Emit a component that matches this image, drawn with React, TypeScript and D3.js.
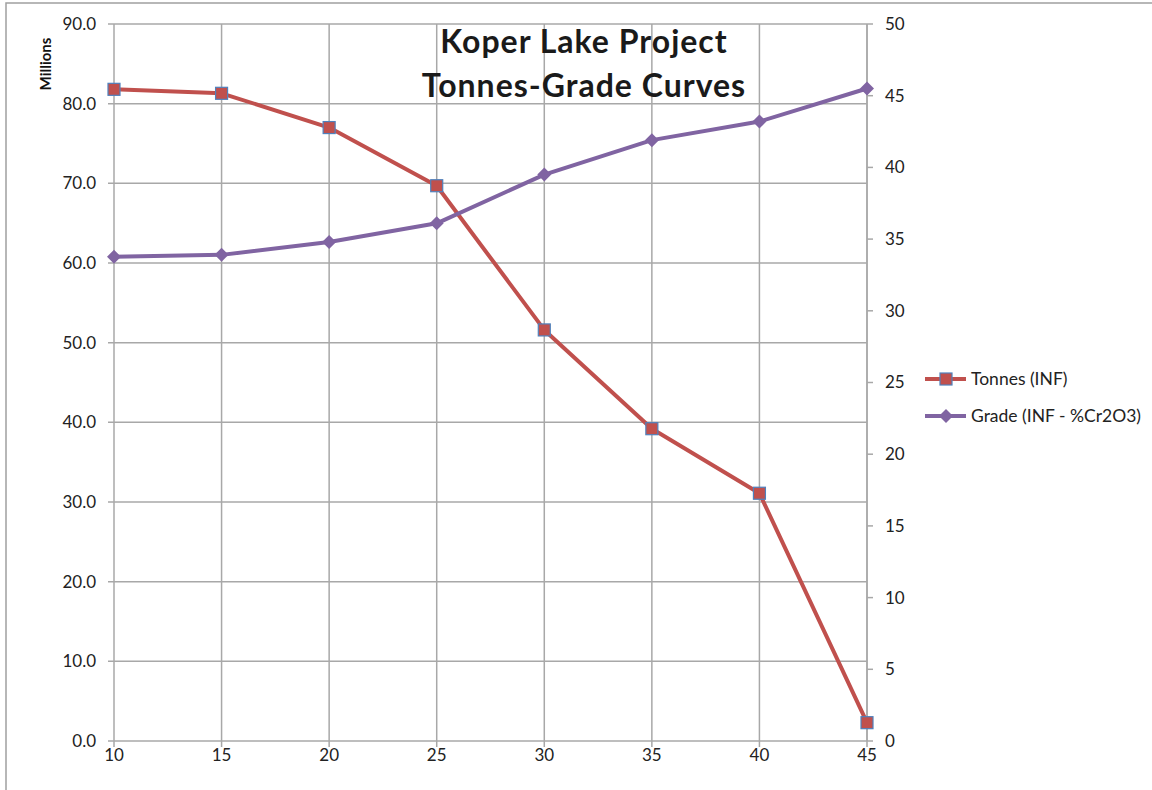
import * as d3 from 'd3';

const cutoffs = [10, 15, 20, 25, 30, 35, 40, 45];
const tonnes = [81.8, 81.3, 77.0, 69.7, 51.6, 39.2, 31.1, 2.3];
const grade = [33.77, 33.9, 34.8, 36.1, 39.5, 41.9, 43.2, 45.5];
const leftTicks = [0, 10, 20, 30, 40, 50, 60, 70, 80, 90];
const rightTicks = [0, 5, 10, 15, 20, 25, 30, 35, 40, 45, 50];
const titleLines = ['Koper Lake Project', 'Tonnes-Grade Curves'];
const seriesNames = ['Tonnes (INF)', 'Grade (INF - %Cr2O3)'];

const W = 1152;
const H = 790;
const font = 'Lato, "Open Sans", sans-serif';
const grid = '#a8a8a8';
const red = '#c0504d';
const purple = '#8064a2';
const blue = '#4f81bd';

export default function App() {
  const x = d3.scaleLinear().domain([10, 45]).range([114, 867]);
  const yL = d3.scaleLinear().domain([0, 90]).range([741, 24]);
  const yR = d3.scaleLinear().domain([0, 50]).range([741, 24]);

  const tonnesLine = d3
    .line<number>()
    .x((_, i) => x(cutoffs[i]))
    .y((d) => yL(d));
  const gradeLine = d3
    .line<number>()
    .x((_, i) => x(cutoffs[i]))
    .y((d) => yR(d));

  const diamond = (cx: number, cy: number, r: number) =>
    `M${cx},${cy - r}L${cx + r},${cy}L${cx},${cy + r}L${cx - r},${cy}Z`;

  return (
    <>
      <style>{'body{margin:0}'}</style>
      <svg width={W} height={H} style={{ display: 'block', background: '#fff' }} fontFamily={font}>
        {/* chart border */}
        <rect x={6} y={3} width={W + 10} height={H + 10} fill="none" stroke="#a0a0a0" strokeWidth={1.5} />

        {/* grid */}
        {leftTicks.map((t) => (
          <line key={'h' + t} x1={108} x2={867} y1={yL(t)} y2={yL(t)} stroke={grid} strokeWidth={1.5} />
        ))}
        {cutoffs.map((c) => (
          <line key={'v' + c} x1={x(c)} x2={x(c)} y1={yL(90)} y2={747} stroke={grid} strokeWidth={1.5} />
        ))}

        {/* right axis */}
        <line x1={867} x2={867} y1={yR(50)} y2={yR(0)} stroke={grid} strokeWidth={1.5} />
        {rightTicks.map((t) => (
          <g key={'r' + t}>
            <line x1={867} x2={873} y1={yR(t)} y2={yR(t)} stroke={grid} strokeWidth={1.5} />
            <text x={885} y={yR(t)} dy="0.35em" fontSize={17} fill="#222">
              {t}
            </text>
          </g>
        ))}

        {/* left axis labels */}
        {leftTicks.map((t) => (
          <text key={'l' + t} x={96} y={yL(t)} dy="0.35em" textAnchor="end" fontSize={17} fill="#222">
            {t.toFixed(1)}
          </text>
        ))}
        {cutoffs.map((c) => (
          <text key={'b' + c} x={x(c)} y={761} textAnchor="middle" fontSize={17} fill="#222">
            {c}
          </text>
        ))}

        <text
          transform="translate(51,64) rotate(-90)"
          textAnchor="middle"
          fontSize={15}
          fontWeight="bold"
          fill="#111"
        >
          Millions
        </text>

        {/* title */}
        {titleLines.map((s, i) => (
          <text
            key={s}
            x={584}
            y={53 + i * 44}
            textAnchor="middle"
            fontSize={32}
            fontWeight="bold"
            letterSpacing={1}
            fill="#1a1a1a"
          >
            {s}
          </text>
        ))}

        {/* series */}
        <path d={tonnesLine(tonnes) ?? ''} fill="none" stroke={red} strokeWidth={4} strokeLinejoin="round" />
        <path d={gradeLine(grade) ?? ''} fill="none" stroke={purple} strokeWidth={4} strokeLinejoin="round" />
        {tonnes.map((d, i) => (
          <rect
            key={'tm' + i}
            x={x(cutoffs[i]) - 6}
            y={yL(d) - 6}
            width={12}
            height={12}
            fill={red}
            stroke={blue}
            strokeWidth={1.2}
          />
        ))}
        {grade.map((d, i) => (
          <path key={'gm' + i} d={diamond(x(cutoffs[i]), yR(d), 7)} fill={purple} />
        ))}

        {/* legend */}
        <g>
          <line x1={925} x2={966} y1={379} y2={379} stroke={red} strokeWidth={4} />
          <rect x={940} y={373} width={12} height={12} fill={red} stroke={blue} strokeWidth={1.2} />
          <text x={971} y={379} dy="0.35em" fontSize={17.5} fill="#222">
            {seriesNames[0]}
          </text>
          <line x1={925} x2={966} y1={416} y2={416} stroke={purple} strokeWidth={4} />
          <path d={diamond(946, 416, 7)} fill={purple} />
          <text x={971} y={416} dy="0.35em" fontSize={17.5} fill="#222">
            {seriesNames[1]}
          </text>
        </g>
      </svg>
    </>
  );
}
